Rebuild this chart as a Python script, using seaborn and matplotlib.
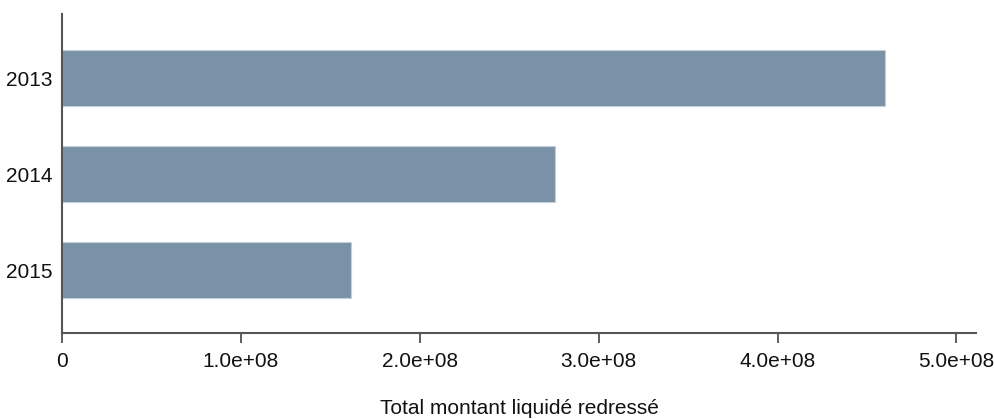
import seaborn as sns
import matplotlib.pyplot as plt
import matplotlib.ticker as mticker
import pandas as pd

# data
years = ["2013", "2014", "2015"]
montant = [4.60e8, 2.755e8, 1.618e8]
xticks = [0, 1e8, 2e8, 3e8, 4e8, 5e8]

df = pd.DataFrame({"Année": years, "Montant": montant})

sns.set_style("white")
plt.rcParams["font.family"] = ["Liberation Sans", "DejaVu Sans"]

fig = plt.figure(figsize=(9.95, 4.19), dpi=100)
ax = fig.add_axes([0.0623, 0.2053, 0.9187, 0.7613])

sns.barplot(data=df, x="Montant", y="Année", orient="h", color="#7b91a7",
            saturation=1, width=0.58, edgecolor="#c3d0dc", linewidth=0.8, ax=ax)

ax.set_xlim(0, 5.11e8)
ax.set_ylim(2.656, -0.667)
ax.set_xticks(xticks)
ax.xaxis.set_major_formatter(
    mticker.FuncFormatter(lambda v, p: "0" if v == 0 else f"{v:.1e}"))

for side in ["top", "right"]:
    ax.spines[side].set_visible(False)
for side in ["left", "bottom"]:
    ax.spines[side].set_color("#555555")
    ax.spines[side].set_linewidth(1.5)

ax.tick_params(axis="x", bottom=True, length=7, width=1.1, color="#333333",
               pad=7, labelsize=15, labelcolor="#111111")
ax.tick_params(axis="y", left=False, length=0, pad=6.5,
               labelsize=15, labelcolor="#111111")

ax.set_ylabel("")
ax.set_xlabel("Total montant liquidé redressé", fontsize=15,
              color="#111111", labelpad=20)

fig.savefig("out.png", dpi=100)
plt.close(fig)
